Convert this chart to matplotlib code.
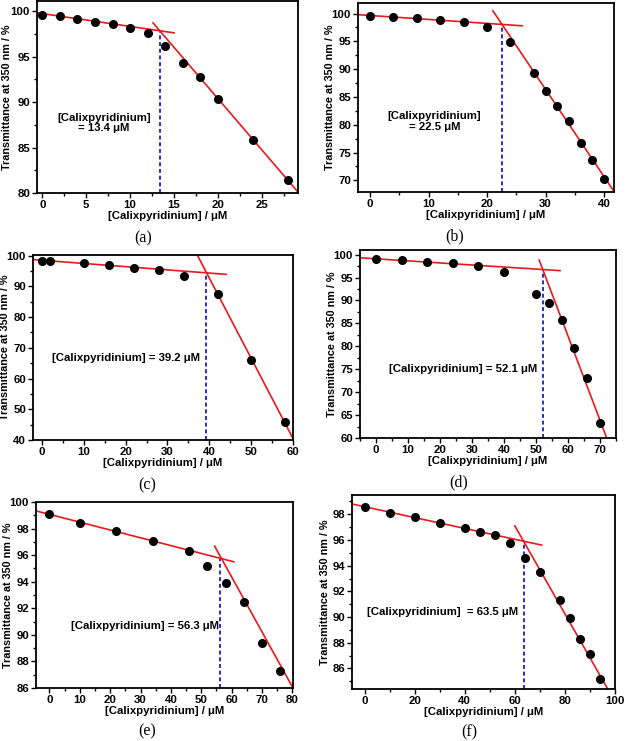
import matplotlib
matplotlib.use('Agg')
import matplotlib.pyplot as plt
from matplotlib.ticker import MultipleLocator

plt.rcParams['font.family'] = ['Liberation Sans', 'DejaVu Sans']
plt.rcParams['font.weight'] = 'bold'

# panel data: concentration (uM) and transmittance (%)
xa = [0, 2, 4, 6, 8, 10, 12, 14, 16, 18, 20, 24, 28]
ya = [99.6, 99.4, 99.1, 98.8, 98.6, 98.1, 97.6, 96.1, 94.3, 92.7, 90.3, 85.8, 81.4]
xb = [0, 4, 8, 12, 16, 20, 24, 28, 30, 32, 34, 36, 38, 40]
yb = [99.6, 99.4, 99.2, 98.8, 98.4, 97.5, 94.8, 89.3, 86.0, 83.3, 80.7, 76.8, 73.7, 70.3]
xc = [0, 2, 10, 16, 22, 28, 34, 42, 50, 58]
yc = [98.3, 98.3, 97.6, 97.1, 96.1, 95.4, 93.5, 87.5, 66.0, 46.0]
xd = [0, 8, 16, 24, 32, 40, 50, 54, 58, 62, 66, 70]
yd = [99.0, 98.9, 98.4, 98.1, 97.6, 96.1, 91.4, 89.5, 85.7, 79.6, 73.0, 63.3]
xe = [0, 10, 22, 34, 46, 52, 58, 64, 70, 76]
ye = [99.1, 98.4, 97.8, 97.1, 96.3, 95.2, 93.9, 92.5, 89.4, 87.3]
xf = [0, 10, 20, 30, 40, 46, 52, 58, 64, 70, 78, 82, 86, 90, 94]
yf = [98.6, 98.1, 97.8, 97.3, 96.9, 96.6, 96.4, 95.8, 94.6, 93.5, 91.3, 89.9, 88.3, 87.1, 85.2]

# fitted lines: (x start, x end, y start, y end)
fit1 = {'a': [-0.6, 15, 99.8, 97.6], 'b': [-2, 26, 99.8, 97.8], 'c': [-2, 44, 98.7, 93.9],
        'd': [-5, 57.5, 99.3, 96.5], 'e': [-4.4, 60.7, 99.33, 95.5], 'f': [-5, 70.7, 98.8, 95.6]}
fit2 = {'a': [12.6, 29.1, 98.7, 80.1], 'b': [21, 41.7, 100.5, 68.0], 'c': [37, 60, 100.5, 40.5],
        'd': [51, 72.1, 98.8, 60.0], 'e': [54.4, 80.2, 96.68, 86.0], 'f': [60, 97.1, 97.1, 84.4]}
# break points (x, y of intersection)
brk = {'a': (13.4, 97.75), 'b': (22.5, 98.05), 'c': (39.2, 94.6),
       'd': (52.1, 96.75), 'e': (56.3, 95.8), 'f': (63.5, 95.9)}
labels = {'a': '[Calixpyridinium]\n= 13.4 \u03bcM', 'b': '[Calixpyridinium]\n= 22.5 \u03bcM',
          'c': '[Calixpyridinium] = 39.2 \u03bcM', 'd': '[Calixpyridinium] = 52.1 \u03bcM',
          'e': '[Calixpyridinium] = 56.3 \u03bcM', 'f': '[Calixpyridinium]  = 63.5 \u03bcM'}
label_pos = {'a': (7.0, 87.7), 'b': (11.0, 80.6), 'c': (20.2, 66.6),
             'd': (27.3, 75.1), 'e': (31.5, 90.7), 'f': (31.2, 90.4)}

data = {'a': (xa, ya), 'b': (xb, yb), 'c': (xc, yc), 'd': (xd, yd), 'e': (xe, ye), 'f': (xf, yf)}
xlims = {'a': (-0.6, 29.1), 'b': (-2.05, 41.7), 'c': (-2.15, 60), 'd': (-5, 75), 'e': (-4.4, 80.2), 'f': (-5, 100)}
ylims = {'a': (80, 101.1), 'b': (67.9, 101.9), 'c': (40, 100.2), 'd': (60, 101), 'e': (86, 100), 'f': (84.4, 99.5)}
xmaj = {'a': 5, 'b': 10, 'c': 10, 'd': 10, 'e': 10, 'f': 20}
ymaj = {'a': 5, 'b': 5, 'c': 10, 'd': 5, 'e': 2, 'f': 2}

# axes boxes in pixels: left, right, top, bottom
W, H = 625, 741
boxes = {'a': (37, 298, 1, 193), 'b': (358, 614, 3, 192), 'c': (33, 293, 255, 440),
         'd': (360, 616, 250, 438), 'e': (36, 293, 502, 688), 'f': (352, 615, 495, 689)}
ylab_x = {'a': 7, 'b': 330, 'c': 5, 'd': 332, 'e': 8, 'f': 325}
captions = {'a': (143, 238), 'b': (455, 236), 'c': (147, 485), 'd': (459, 482), 'e': (147, 731), 'f': (469, 732)}

fig = plt.figure(figsize=(W / 100, H / 100), dpi=100)
for k in 'abcdef':
    l, r, t, b = boxes[k]
    ax = fig.add_axes([l / W, 1 - b / H, (r - l) / W, (b - t) / H])
    x, y = data[k]
    f1, f2 = fit1[k], fit2[k]
    ax.plot(f1[:2], f1[2:], color='#e8191c', lw=1.2, zorder=2)
    ax.plot(f2[:2], f2[2:], color='#e8191c', lw=1.2, zorder=2)
    bx, by = brk[k]
    ax.plot([bx, bx], [ylims[k][0], by], color='#1a1ad8', lw=1.3, ls=(0, (2.2, 1.5)), zorder=1)
    ax.plot(x, y, 'o', color='black', ms=5.5, zorder=3)
    lx, ly = label_pos[k]
    ax.text(lx, ly, labels[k], ha='center', va='center', fontsize=8.2, fontweight='bold',
            linespacing=1.1)
    ax.set_xlim(*xlims[k])
    ax.set_ylim(*ylims[k])
    ax.xaxis.set_major_locator(MultipleLocator(xmaj[k]))
    ax.xaxis.set_minor_locator(MultipleLocator(xmaj[k] / 2))
    ax.yaxis.set_major_locator(MultipleLocator(ymaj[k]))
    ax.yaxis.set_minor_locator(MultipleLocator(ymaj[k] / 2))
    ax.tick_params(which='major', direction='out', length=3.5, width=1, labelsize=8.2, pad=1.5)
    ax.tick_params(which='minor', direction='out', length=2, width=1)
    for lbl in ax.get_xticklabels() + ax.get_yticklabels():
        lbl.set_fontweight('bold')
    for s in ax.spines.values():
        s.set_linewidth(1.3)
    ax.set_xlabel('[Calixpyridinium] / \u03bcM', fontsize=8.2, fontweight='bold', labelpad=0.5)
    ax.set_ylabel('Transmittance at 350 nm / %', fontsize=7.8, fontweight='bold', va='center')
    ax.yaxis.set_label_coords((ylab_x[k] - l) / (r - l), 0.5)
    cx, cy = captions[k]
    fig.text(cx / W, 1 - cy / H, '(%s)' % k, ha='center', va='center', fontsize=11.5,
             family='Liberation Serif', fontweight='normal')

fig.savefig('out.png', dpi=100)
